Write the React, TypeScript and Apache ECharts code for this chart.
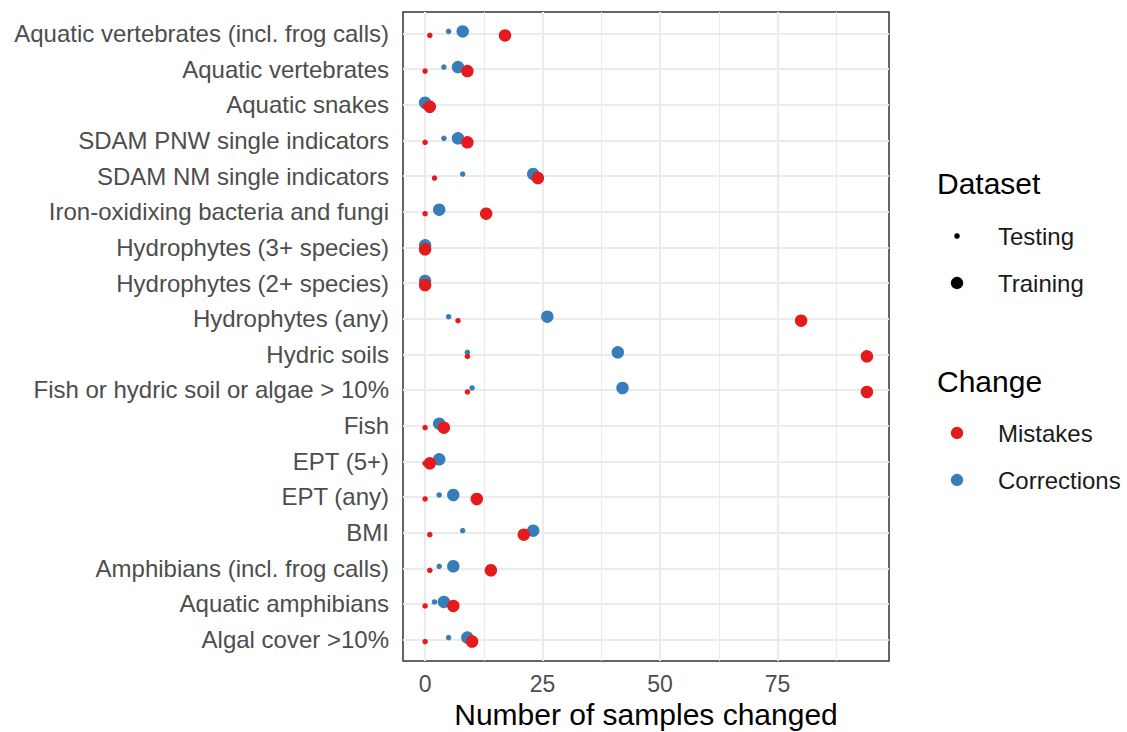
import React, { useEffect, useRef } from "react";
import * as echarts from "echarts";

const categories = [
  "Aquatic vertebrates (incl. frog calls)",
  "Aquatic vertebrates",
  "Aquatic snakes",
  "SDAM PNW single indicators",
  "SDAM NM single indicators",
  "Iron-oxidixing bacteria and fungi",
  "Hydrophytes (3+ species)",
  "Hydrophytes (2+ species)",
  "Hydrophytes (any)",
  "Hydric soils",
  "Fish or hydric soil or algae > 10%",
  "Fish",
  "EPT (5+)",
  "EPT (any)",
  "BMI",
  "Amphibians (incl. frog calls)",
  "Aquatic amphibians",
  "Algal cover >10%",
];

const mistakesTesting = [1, 0, 0, 0, 2, 0, 0, 0, 7, 9, 9, 0, 0, 0, 1, 1, 0, 0];
const correctionsTesting = [5, 4, null, 4, 8, null, null, null, 5, 9, 10, null, null, 3, 8, 3, 2, 5];
const correctionsTraining = [8, 7, 0, 7, 23, 3, 0, 0, 26, 41, 42, 3, 3, 6, 23, 6, 4, 9];
const mistakesTraining = [17, 9, 1, 9, 24, 13, 0, 0, 80, 94, 94, 4, 1, 11, 21, 14, 6, 10];

const xTicks = [0, 25, 50, 75];
const xMinorTicks = [12.5, 37.5, 62.5, 87.5];
const xRange = [-4.7, 98.7];

const datasetLabels = ["Testing", "Training"];
const changeLabels = ["Mistakes", "Corrections"];

const RED = "#E41A1C";
const BLUE = "#377EB8";
const FONT = "'Liberation Sans', Arial, sans-serif";

export default function App() {
  const ref = useRef<HTMLDivElement>(null);

  useEffect(() => {
    if (!ref.current) return;
    const chart = echarts.init(ref.current, undefined, { renderer: "svg" });
    const idx = categories.map((_, i) => i);
    const toData = (vals: (number | null)[]) =>
      vals.map((v, i) => [v, i]).filter((d) => d[0] !== null);

    const mkSeries = (name: string, vals: (number | null)[], color: string, size: number, dy: number) => ({
      name,
      type: "scatter",
      data: toData(vals),
      symbol: "circle",
      symbolSize: size,
      symbolOffset: [0, dy],
      itemStyle: { color, opacity: 1 },
      z: 3,
      silent: true,
    });

    const option: any = {
      animation: false,
      textStyle: { fontFamily: FONT },
      grid: {
        left: 403,
        top: 12,
        width: 486,
        height: 649,
        show: true,
        containLabel: false,
        outerBoundsMode: "none",
        borderColor: "#333333",
        borderWidth: 1.5,
        backgroundColor: "transparent",
      },
      xAxis: {
        type: "value",
        min: xRange[0],
        max: xRange[1],
        name: "Number of samples changed",
        nameLocation: "middle",
        nameGap: 38,
        nameTextStyle: { fontSize: 30, color: "#000000", fontFamily: FONT },
        axisLine: { show: false },
        axisTick: { show: true, customValues: xTicks, length: 6, lineStyle: { color: "#333333", width: 1.5 } },
        axisLabel: { customValues: xTicks, fontSize: 23, color: "#4D4D4D", margin: 11, fontFamily: FONT },
        splitLine: { show: false },
      },
      yAxis: {
        type: "value",
        inverse: true,
        min: -0.6,
        max: categories.length - 0.4,
        axisLine: { show: false },
        axisTick: { show: true, customValues: idx, length: 6, lineStyle: { color: "#333333", width: 1.5 } },
        axisLabel: {
          customValues: idx,
          fontSize: 24,
          color: "#4D4D4D",
          margin: 14,
          fontFamily: FONT,
          formatter: (v: number) => categories[Math.round(v)] ?? "",
        },
        splitLine: { show: false },
      },
      series: [
        {
          type: "scatter",
          data: [],
          silent: true,
          z: 1,
          markLine: {
            silent: true,
            z: 1,
            symbol: ["none", "none"],
            label: { show: false },
            animation: false,
            data: [
              ...xMinorTicks.map((v) => ({ xAxis: v, lineStyle: { color: "#EBEBEB", width: 1, type: "solid" } })),
              ...xTicks.map((v) => ({ xAxis: v, lineStyle: { color: "#EBEBEB", width: 2, type: "solid" } })),
              ...idx.map((v) => ({ yAxis: v, lineStyle: { color: "#EBEBEB", width: 2, type: "solid" } })),
            ],
          },
        },
        mkSeries("Corrections Testing", correctionsTesting, BLUE, 5.5, -2),
        mkSeries("Corrections Training", correctionsTraining, BLUE, 12.5, -2),
        mkSeries("Mistakes Testing", mistakesTesting, RED, 5.5, 2),
        mkSeries("Mistakes Training", mistakesTraining, RED, 12.5, 2),
      ],
      graphic: [
        { type: "text", left: 937, top: 168, style: { text: "Dataset", fontSize: 30, fill: "#000000", fontFamily: FONT } },
        { type: "circle", shape: { cx: 957, cy: 236, r: 2.8 }, style: { fill: "#000000" } },
        { type: "text", left: 998, top: 224, style: { text: datasetLabels[0], fontSize: 24, fill: "#1A1A1A", fontFamily: FONT } },
        { type: "circle", shape: { cx: 957, cy: 283, r: 6.2 }, style: { fill: "#000000" } },
        { type: "text", left: 998, top: 271, style: { text: datasetLabels[1], fontSize: 24, fill: "#1A1A1A", fontFamily: FONT } },
        { type: "text", left: 937, top: 366, style: { text: "Change", fontSize: 30, fill: "#000000", fontFamily: FONT } },
        { type: "circle", shape: { cx: 957, cy: 433, r: 6.2 }, style: { fill: RED } },
        { type: "text", left: 998, top: 421, style: { text: changeLabels[0], fontSize: 24, fill: "#1A1A1A", fontFamily: FONT } },
        { type: "circle", shape: { cx: 957, cy: 480, r: 6.2 }, style: { fill: BLUE } },
        { type: "text", left: 998, top: 468, style: { text: changeLabels[1], fontSize: 24, fill: "#1A1A1A", fontFamily: FONT } },
      ],
    };
    chart.setOption(option);
    return () => chart.dispose();
  }, []);

  return (
    <div
      ref={ref}
      style={{ position: "fixed", left: 0, top: 0, width: 1127, height: 732, background: "#ffffff" }}
    />
  );
}
